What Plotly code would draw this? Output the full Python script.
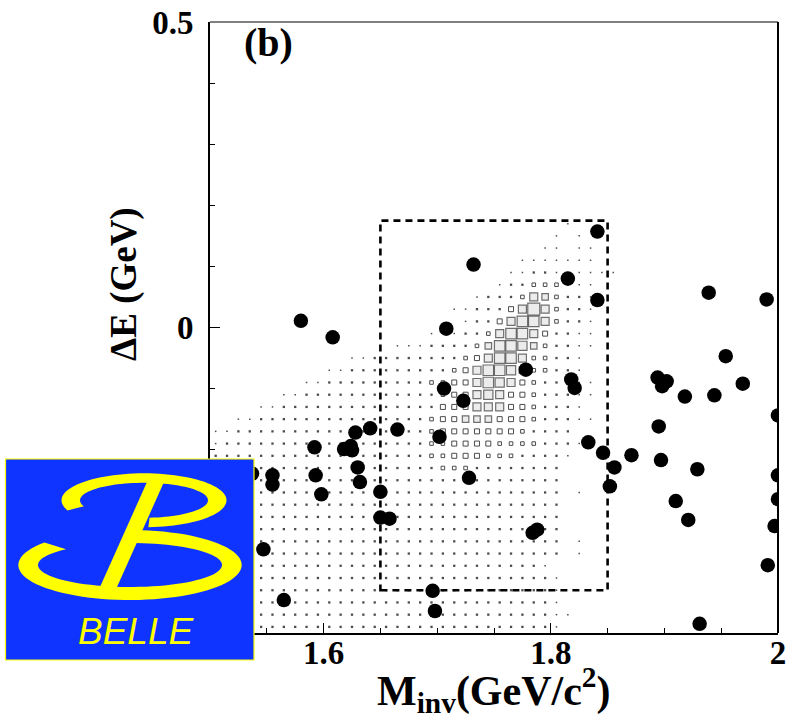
import math
import plotly.graph_objects as go

# ---------------- data ----------------
# candidate events (invariant mass in GeV/c^2, Delta E in GeV)
evt_mass = [1.580, 1.608, 1.708, 1.732, 1.841, 1.815, 1.841, 1.778, 1.818, 1.821,
            1.706, 1.723, 1.665, 1.702, 1.833, 1.846, 1.856, 1.852, 1.728, 1.650,
            1.650, 1.658, 1.784, 1.788, 1.696, 1.698, 1.565, 1.931, 1.537, 1.555,
            1.555, 1.547, 1.592, 1.593, 1.598, 1.628, 1.618, 1.624, 1.625, 1.630,
            1.632, 1.641, 1.871, 1.894, 1.902, 1.898, 1.895, 1.897, 1.918, 1.910,
            1.921, 1.929, 1.939, 1.944, 1.954, 1.969, 1.990, 2.000, 2.000, 2.000,
            1.997, 1.991]
evt_de = [0.011, -0.016, -0.002, 0.103, 0.157, 0.080, 0.045, -0.069, -0.085, -0.099,
          -0.100, -0.120, -0.167, -0.179, -0.188, -0.205, -0.229, -0.260, -0.246, -0.269,
          -0.311, -0.313, -0.336, -0.331, -0.431, -0.464, -0.446, -0.485, -0.239, -0.242,
          -0.257, -0.363, -0.196, -0.242, -0.273, -0.172, -0.199, -0.194, -0.201, -0.229,
          -0.253, -0.165, -0.209, -0.082, -0.088, -0.096, -0.162, -0.217, -0.113, -0.284,
          -0.315, -0.232, 0.057, -0.111, -0.047, -0.092, 0.046, -0.144, -0.242, -0.281,
          -0.325, -0.389]

# signal MC box histogram: 50 mass bins (1.50-2.00, width 0.01) per row,
# rows listed from dE = +0.17 (top) down to dE = -0.49 (bottom), width 0.02.
# each digit is the box-size level of that cell (0 = empty)
mc_rows = [
    "0000000000 0000000000 0000000000 0100000000 0000000000",
    "0000000000 0000000000 0000000000 1010000000 0000000000",
    "0000000000 0000000000 0000000001 1011000000 0000000000",
    "0000000000 0000000000 0000000111 1111000000 0000000000",
    "0000000000 0000000000 0000001122 1111110000 0000000000",
    "0000000000 0000000000 0000012233 3211000000 0000000000",
    "0000000000 0000000000 0001222365 3221000000 0000000000",
    "0000000000 0000000000 0112224696 3221000000 0000000000",
    "0000000000 0000000000 0012246886 3221000000 0000000000",
    "0000000000 0000000001 1122368864 2211000000 0000000000",
    "0000000000 0000001112 2223588753 2211000000 0000000000",
    "0000000000 0011222222 2234688633 2210000000 0000000000",
    "0000000000 1122222222 2346887533 2210000000 0000000000",
    "0000000011 2222222223 3446876432 2211000000 0000000000",
    "0000001122 2222222222 3446764432 2211000000 0000000000",
    "0000112222 2222222222 4446664432 2210000000 0000000000",
    "0011222222 2222222223 4455544432 2211000000 0000000000",
    "1122222222 2222222223 4444444322 2200000000 0000000000",
    "1222222222 2222222223 3444433332 2210000000 0000000000",
    "2222222222 2222222223 3444333222 2100000000 0000000000",
    "2222222222 2222222222 3332222222 2000000000 0000000000",
    "2222222222 2222222222 2222222222 2000000000 0000000000",
    "2222222222 2222222222 2222222222 2010000000 0000000000",
    "2222222222 2222222222 2222222222 2000000000 0000000000",
    "2222222222 2222222222 2222222222 2000000000 0000000000",
    "2222222222 2222222222 2222222222 2000000000 0000000000",
    "2222222222 2222222222 2222222222 2010000000 0000000000",
    "2222222222 2222222222 2222222222 2010000000 0000000000",
    "2222222222 2222222222 2222222221 0000000000 0000000000",
    "2222222222 2222222222 2222222222 1000000000 0000000000",
    "2222222222 2222222222 2222222222 1000000000 0000000000",
    "2222222222 2222222222 2222222222 1000000000 0000000000",
    "2222222222 2222222222 2222222222 1100000000 0000000000",
    "2222222222 2222222222 2222222222 1000000000 0000000000",
]
mc_top_de = 0.17
mass_lo, mass_bin = 1.505, 0.01
de_bin = 0.02

# signal box
sig_mass = [1.65, 1.85]
sig_de = [-0.43, 0.175]

x_ticks = [1.6, 1.8, 2.0]
x_ticktext = ["1.6", "1.8", "2"]
y_ticks = [0.0, 0.5]
y_ticktext = ["0", "0.5"]

# ---------------- build box-histogram traces ----------------
level_size = {1: 1.5, 2: 2.3, 3: 3.6, 4: 5.0, 5: 6.5, 6: 8.0, 7: 9.2, 8: 10.5, 9: 12.0}
dots = {"x": [], "y": [], "s": []}
open_sq = {"x": [], "y": [], "s": []}
grey_sq = {"x": [], "y": [], "s": []}
for k, row in enumerate(mc_rows):
    cells = row.replace(" ", "")
    de = round(mc_top_de - de_bin * k, 3)
    for i, ch in enumerate(cells):
        lv = int(ch)
        if lv == 0:
            continue
        m = round(mass_lo + mass_bin * i, 3)
        tgt = dots if lv <= 2 else (open_sq if lv <= 4 else grey_sq)
        tgt["x"].append(m)
        tgt["y"].append(de)
        tgt["s"].append(level_size[lv])

fig = go.Figure()
fig.add_trace(go.Scatter(x=dots["x"], y=dots["y"], mode="markers",
                         marker=dict(symbol="square", size=dots["s"], color="black",
                                     line=dict(width=0)), hoverinfo="skip"))
fig.add_trace(go.Scatter(x=open_sq["x"], y=open_sq["y"], mode="markers",
                         marker=dict(symbol="square", size=open_sq["s"], color="white",
                                     line=dict(width=1, color="black")), hoverinfo="skip"))
fig.add_trace(go.Scatter(x=grey_sq["x"], y=grey_sq["y"], mode="markers",
                         marker=dict(symbol="square", size=grey_sq["s"], color="#e4e4e4",
                                     line=dict(width=1.2, color="#333333")), hoverinfo="skip"))
fig.add_trace(go.Scatter(x=evt_mass, y=evt_de, mode="markers",
                         marker=dict(symbol="circle", size=14.5, color="black", line=dict(width=0))))

# signal region
fig.add_shape(type="rect", xref="x", yref="y", x0=sig_mass[0], x1=sig_mass[1],
              y0=sig_de[0], y1=sig_de[1],
              line=dict(color="black", width=2.6, dash="7px,5px"), layer="below")

# frame: top gray, right black
fig.add_shape(type="line", xref="paper", yref="paper", x0=0, x1=1, y0=1, y1=1,
              line=dict(color="#808080", width=2))
fig.add_shape(type="line", xref="paper", yref="paper", x0=1, x1=1, y0=0, y1=1,
              line=dict(color="black", width=2))
# major tick at dE = -0.5 (label sits under the logo)
fig.add_shape(type="line", xref="paper", yref="y", x0=0, x1=10 / 568, y0=-0.5, y1=-0.5,
              line=dict(color="black", width=1))

# ---------------- Belle logo ----------------
L, R, T, B = 210, 778, 22, 633
W, H = R - L, B - T


def pu(px):
    return (px - L) / W


def pv(py):
    return (B - py) / H


def ring_path(cx, cy, ao, bo, ai, bi, t0, t1, ti0, ti1, n=80):
    pts = []
    for k in range(n + 1):
        t = math.radians(t0 + (t1 - t0) * k / n)
        pts.append((cx + ao * math.cos(t), cy - bo * math.sin(t)))
    for k in range(n + 1):
        t = math.radians(ti1 + (ti0 - ti1) * k / n)
        pts.append((cx + ai * math.cos(t), cy - bi * math.sin(t)))
    return "M " + " L ".join(f"{pu(x):.5f},{pv(y):.5f}" for x, y in pts) + " Z"


logo_blue = "#1034ff"
logo_yellow = "#ffff00"
fig.add_shape(type="rect", xref="paper", yref="paper", x0=pu(5.5), x1=pu(254),
              y0=pv(660), y1=pv(459), fillcolor=logo_blue,
              line=dict(color=logo_yellow, width=1.2), layer="above")
fig.add_shape(type="path", xref="paper", yref="paper",
              path=ring_path(144, 500.3, 82.5, 27, 64, 17.5, -87, 202, -85, 200),
              fillcolor=logo_yellow, line=dict(width=0), layer="above")
fig.add_shape(type="path", xref="paper", yref="paper",
              path=ring_path(130, 565, 111.7, 35, 92, 22, 140, 448, 134, 450),
              fillcolor=logo_yellow, line=dict(width=0), layer="above")
diag = [(147, 482), (164, 482), (117, 587), (100, 587)]
fig.add_shape(type="path", xref="paper", yref="paper",
              path="M " + " L ".join(f"{pu(x):.5f},{pv(y):.5f}" for x, y in diag) + " Z",
              fillcolor=logo_yellow, line=dict(width=0), layer="above")
fig.add_annotation(xref="paper", yref="paper", x=pu(136), y=pv(631), text="BELLE",
                   showarrow=False, xanchor="center", yanchor="middle",
                   font=dict(family="Liberation Sans", size=37, color=logo_yellow,
                             style="italic"))

# ---------------- labels ----------------
serif = "Liberation Serif"
fig.add_annotation(xref="paper", yref="paper", x=pu(268), y=pv(42), text="<b>(b)</b>",
                   showarrow=False, xanchor="center", yanchor="middle",
                   font=dict(family=serif, size=40, color="black"))
fig.add_annotation(xref="paper", yref="paper", x=pu(494), y=pv(690),
                   text="<b>M<sub>inv</sub>(GeV/c<sup>2</sup>)</b>",
                   showarrow=False, xanchor="center", yanchor="middle",
                   font=dict(family=serif, size=42, color="black"))
fig.add_annotation(xref="paper", yref="paper", x=pu(124), y=pv(284),
                   text="<b>ΔE (GeV)</b>", textangle=-90,
                   showarrow=False, xanchor="center", yanchor="middle",
                   font=dict(family=serif, size=37, color="black"))

tickfont = dict(family=serif, size=33, color="black", weight="bold")
fig.update_xaxes(range=[1.5, 2.0], tickvals=x_ticks, ticktext=x_ticktext,
                 ticks="inside", ticklen=10, tickwidth=1, tickcolor="black",
                 showline=True, linecolor="black", linewidth=2, mirror=False,
                 showgrid=False, zeroline=False, tickfont=tickfont,
                 automargin=False, ticklabeloverflow="allow", ticklabelstandoff=-11,
                 minor=dict(dtick=0.05, tick0=1.5, ticks="inside", ticklen=5,
                            tickwidth=1, tickcolor="black", showgrid=False))
fig.update_yaxes(range=[-0.5, 0.5], tickvals=y_ticks, ticktext=y_ticktext,
                 ticks="inside", ticklen=10, tickwidth=1, tickcolor="black",
                 showline=True, linecolor="black", linewidth=2, mirror=False,
                 showgrid=False, zeroline=False, tickfont=tickfont,
                 automargin=False, ticklabeloverflow="allow", ticklabelstandoff=8,
                 minor=dict(dtick=0.1, tick0=0, ticks="inside", ticklen=5,
                            tickwidth=1, tickcolor="black", showgrid=False))

fig.update_layout(width=786, height=717, showlegend=False,
                  margin=dict(l=L, r=786 - R, t=T, b=717 - B, autoexpand=False),
                  paper_bgcolor="white", plot_bgcolor="rgba(0,0,0,0)")

fig.write_html("out.html")
